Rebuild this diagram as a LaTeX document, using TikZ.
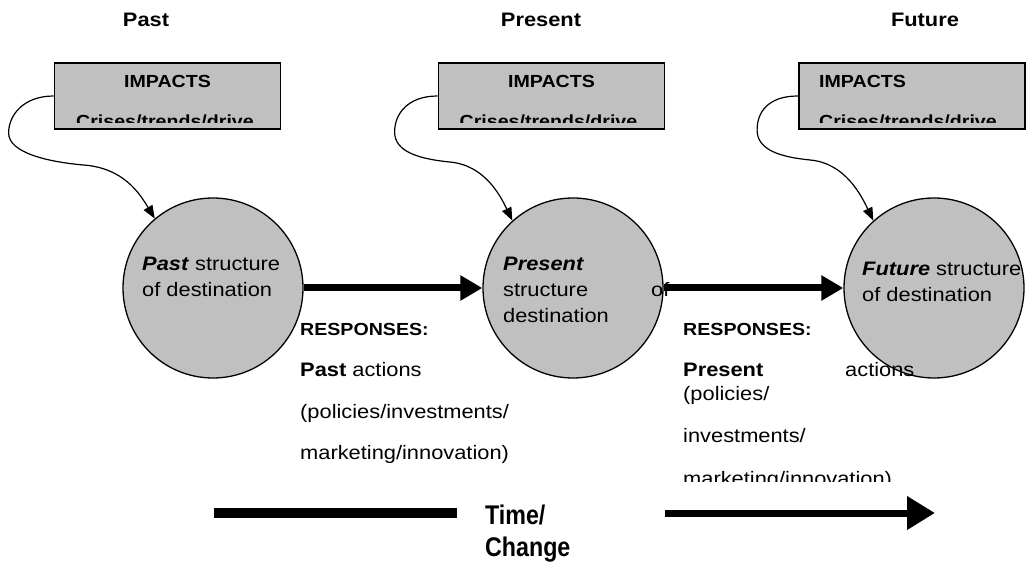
\documentclass[tikz,border=0pt]{standalone}
\usepackage{fontspec}
\setmainfont{Liberation Sans}[FakeStretch=1.12]
\newfontfamily\narrowfont{Liberation Sans}[FakeStretch=0.86]
\usetikzlibrary{arrows.meta}
\definecolor{shade}{HTML}{C0C0C0}
\begin{document}
\begin{tikzpicture}[x=1pt,y=-1pt,
  txt/.style={inner sep=0pt, anchor=base west, font=\fontsize{19.5}{23}\selectfont},
  head/.style={inner sep=0pt, anchor=base, font=\fontsize{19.5}{23}\selectfont\bfseries},
  lbl/.style={inner sep=0pt, anchor=base west, font=\fontsize{17.5}{20}\selectfont\bfseries},
  big/.style={inner sep=0pt, anchor=base west, font=\narrowfont\fontsize{27}{30}\selectfont\bfseries},
  state/.style={circle, draw, line width=1.3pt, fill=shade, minimum size=180pt, inner sep=0pt},
  impbox/.style={rectangle, draw, line width=1.8pt, fill=shade, minimum width=226pt, minimum height=66pt, inner sep=0pt},
  flow/.style={line width=7pt, -{Triangle[length=22pt,width=24pt]}},
  influence/.style={line width=1.2pt, -{Triangle[length=13pt,width=10pt]}},
]
\useasboundingbox (0,0) rectangle (1029,564);

% headings
\node[head] (hpast) at (146,27) {Past};
\node[head] (hpres) at (541,27) {Present};
\node[head] (hfut) at (925,27) {Future};

% impact boxes
\node[impbox] (b1) at (167.5,96) {};
\node[impbox] (b2) at (551.5,96) {};
\node[impbox] (b3) at (912,96) {};
\node[lbl, anchor=base] (i1) at (167.5,88) {IMPACTS};
\node[lbl, anchor=base] (i2) at (551.5,88) {IMPACTS};
\node[lbl] (i3) at (819,88) {IMPACTS};
\begin{scope}
  \clip (0,60) rectangle (1029,123);
  \node[lbl, anchor=base] (k1) at (165,128) {Crises/trends/drive};
  \node[lbl, anchor=base] (k2) at (548.5,128) {Crises/trends/drive};
  \node[lbl] (k3) at (819,128) {Crises/trends/drive};
\end{scope}

% state circles
\node[state] (c1) at (213,288) {};
\node[state] (c2) at (573,288) {};
\node[state] (c3) at (934,288) {};

\node[txt] (t1a) at (142,271) {\textbf{\textit{Past}} structure};
\node[txt] (t1b) at (142,297) {of destination};
\node[txt] (t2a) at (503,271) {\textbf{\textit{Present}}};
\node[txt] (t2b) at (503,297) {structure};
\node[txt] (t2c) at (651,297) {of};
\node[txt] (t2d) at (503,323) {destination};
\node[txt] (t3a) at (862,276) {\textbf{\textit{Future}} structure};
\node[txt] (t3b) at (862,302) {of destination};

% flows between states
\draw[flow] (c1.east) -- (c2.west);
\draw[flow] (c2.east) -- (c3.west);

% impact arrows
\draw[influence] (b1.west) .. controls +(-30,0) and +(0,-18) .. ++(-45,37)
  .. controls +(0,20) and +(-35,-3) .. ++(75,32)
  .. controls +(40,3) and +(-15,-25) .. (c1.130);
\draw[influence] (b2.west) .. controls +(-30,0) and +(0,-18) .. ++(-43,36)
  .. controls +(0,20) and +(-30,-3) .. ++(55,30)
  .. controls +(35,3) and +(-12,-25) .. (c2.132);
\draw[influence] (b3.west) .. controls +(-30,0) and +(0,-18) .. ++(-41,34)
  .. controls +(0,20) and +(-30,-3) .. ++(53,30)
  .. controls +(35,3) and +(-12,-25) .. (c3.132);

% responses
\node[lbl] (r1) at (300,336) {RESPONSES:};
\node[txt] (r1a) at (300,376) {\textbf{Past} actions};
\node[txt] (r1b) at (300,418) {(policies/investments/};
\node[txt] (r1c) at (300,459) {marketing/innovation)};
\node[lbl] (r2) at (683,336) {RESPONSES:};
\node[txt] (r2a) at (683,377) {\textbf{Present}};
\node[txt] (r2b) at (845,377) {actions};
\node[txt] (r2c) at (683,400) {(policies/};
\node[txt] (r2d) at (683,442) {investments/};
\begin{scope}
  \clip (600,440) rectangle (1029,481);
  \node[txt] (r2e) at (683,485) {marketing/innovation)};
\end{scope}

% time axis
\coordinate (barL) at (214,513);
\coordinate (barR) at (457,513);
\draw[line width=10pt] (barL) -- (barR);
\node[big] (time) at (485,524) {Time/};
\node[big] (change) at (485,556) {Change};
\coordinate (arL) at (665,513);
\coordinate (arR) at (935,513);
\draw[line width=7pt, -{Triangle[length=28pt,width=32pt]}] (arL) -- (arR);
\end{tikzpicture}
\end{document}
